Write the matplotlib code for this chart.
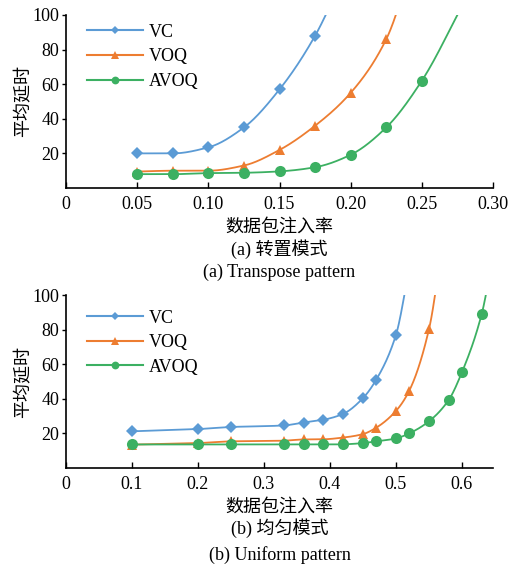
import numpy as np
import matplotlib
matplotlib.use("Agg")
import matplotlib.pyplot as plt

plt.rcParams['font.family'] = ['Liberation Serif', 'Noto Sans CJK SC', 'DejaVu Sans']
plt.rcParams['font.size'] = 13

series_names = ["VC", "VOQ", "AVOQ"]
colors = ["#5B9BD5", "#ED7D31", "#3CB062"]
markers = ["D", "^", "o"]

# (a) Transpose pattern
xa = [0.05, 0.075, 0.10, 0.125, 0.15, 0.175, 0.20, 0.225, 0.25]
vc_a = [20, 20, 23.5, 35, 57, 88]
voq_a = [9.5, 10, 10, 13, 22, 36, 55, 86]
avoq_a = [8, 8, 8.6, 8.8, 9.6, 12, 19.2, 35, 62]
# estimated continuation of the curves above the plot top
vc_a_ext = (0.20, 132)
voq_a_ext = (0.25, 150)
avoq_a_ext = (0.28, 108)

# (b) Uniform pattern
vc_b_x = [0.10, 0.20, 0.25, 0.33, 0.36, 0.39, 0.42, 0.45, 0.47, 0.50]
vc_b = [21.2, 22.5, 23.7, 24.6, 26.3, 27.9, 31.3, 40.4, 51, 77]
voq_b_x = [0.10, 0.20, 0.25, 0.33, 0.36, 0.39, 0.42, 0.45, 0.47, 0.50, 0.52, 0.55]
voq_b = [13.5, 14.4, 15.4, 15.8, 16.5, 16.6, 17.6, 19.6, 23.3, 33, 44.6, 80.2]
avoq_b_x = [0.10, 0.20, 0.25, 0.33, 0.36, 0.39, 0.42, 0.45, 0.47, 0.50, 0.52, 0.55, 0.58, 0.60, 0.63]
avoq_b = [13.6, 13.6, 13.6, 13.6, 13.6, 13.6, 13.7, 14.4, 15.4, 17.1, 20, 27, 39.4, 55.4, 89.2]
vc_b_ext = (0.52, 115)
voq_b_ext = (0.57, 128)
avoq_b_ext = (0.645, 118)

xticks_a = [0, 0.05, 0.10, 0.15, 0.20, 0.25, 0.30]
xticklabels_a = ["0", "0.05", "0.10", "0.15", "0.20", "0.25", "0.30"]
xticks_b = [0, 0.1, 0.2, 0.3, 0.4, 0.5, 0.6]
xticklabels_b = ["0", "0.1", "0.2", "0.3", "0.4", "0.5", "0.6"]
yticks = [20, 40, 60, 80, 100]


def pchip(x, y, xs):
    x = np.asarray(x, float); y = np.asarray(y, float)
    h = np.diff(x); d = np.diff(y) / h
    n = len(x)
    m = np.zeros(n)
    for k in range(1, n - 1):
        if d[k - 1] * d[k] <= 0:
            m[k] = 0
        else:
            w1 = 2 * h[k] + h[k - 1]; w2 = h[k] + 2 * h[k - 1]
            m[k] = (w1 + w2) / (w1 / d[k - 1] + w2 / d[k])
    m[0] = d[0]; m[-1] = d[-1]
    out = np.empty_like(xs)
    for i, xv in enumerate(xs):
        k = min(max(np.searchsorted(x, xv) - 1, 0), n - 2)
        t = (xv - x[k]) / h[k]
        h00 = 2 * t**3 - 3 * t**2 + 1; h10 = t**3 - 2 * t**2 + t
        h01 = -2 * t**3 + 3 * t**2; h11 = t**3 - t**2
        out[i] = h00 * y[k] + h10 * h[k] * m[k] + h01 * y[k + 1] + h11 * h[k] * m[k + 1]
    return out


fig = plt.figure(figsize=(5.25, 5.64), dpi=100)
fig.patch.set_facecolor("white")

W, H = 525, 564
def ax_rect(l, t, r, b):
    return [l / W, 1 - b / H, (r - l) / W, (b - t) / H]

ax1 = fig.add_axes(ax_rect(66, 15, 493, 188))
ax2 = fig.add_axes(ax_rect(66, 295, 493, 468))

panels = [
    (ax1, [(xa[:len(vc_a)], vc_a, vc_a_ext), (xa[:len(voq_a)], voq_a, voq_a_ext), (xa[:len(avoq_a)], avoq_a, avoq_a_ext)],
     (0, 0.30), xticks_a, xticklabels_a, "(a) 转置模式", "(a) Transpose pattern", 1.023, (-0.352, -0.487)),
    (ax2, [(vc_b_x, vc_b, vc_b_ext), (voq_b_x, voq_b, voq_b_ext), (avoq_b_x, avoq_b, avoq_b_ext)],
     (0, 0.647), xticks_b, xticklabels_b, "(b) 均匀模式", "(b) Uniform pattern", 0.989, (-0.347, -0.503)),
]

msizes = [6.5, 7.5, 8]
for ax, data, xlim, xt, xtl, cap_cn, cap_en, leg_y, cap_y in panels:
    for i, (xs, ys, ext) in enumerate(data):
        cx = list(xs) + [ext[0]]
        cy = list(ys) + [ext[1]]
        xx = np.linspace(cx[0], cx[-1], 400)
        yy = pchip(cx, cy, xx)
        ax.plot(xx, yy, color=colors[i], lw=1.3, zorder=2 + i)
        ax.plot(xs, ys, linestyle="none", marker=markers[i], color=colors[i],
                markersize=msizes[i], markeredgewidth=0, zorder=2 + i)
        ax.plot([], [], color=colors[i], lw=1.5, marker=markers[i],
                markersize=msizes[i] * 0.7, markeredgewidth=0, label=series_names[i])
    ax.set_xlim(*xlim)
    ax.set_ylim(0, 100)
    ax.set_xticks(xt)
    ax.set_xticklabels(xtl)
    ax.set_yticks(yticks)
    ax.spines["top"].set_visible(False)
    ax.spines["right"].set_visible(False)
    ax.spines["left"].set_linewidth(1.2)
    ax.spines["bottom"].set_linewidth(1.2)
    ax.tick_params(axis="x", direction="in", length=4, width=1, pad=6, labelsize=13)
    ax.tick_params(axis="y", direction="out", length=3, width=1, pad=2, labelsize=13)
    ax.set_ylabel("平均延时", fontsize=13, labelpad=0)
    ax.set_xlabel("数据包注入率", fontsize=13, labelpad=4)
    ax.legend(loc="upper left", bbox_to_anchor=(0.02, leg_y), frameon=False,
              handlelength=3.1, handletextpad=0.3, labelspacing=0.42, fontsize=13,
              borderaxespad=0.3)
    ax.text(0.5, cap_y[0], cap_cn, transform=ax.transAxes, ha="center", va="center", fontsize=13)
    ax.text(0.5, cap_y[1], cap_en, transform=ax.transAxes, ha="center", va="center", fontsize=13)

fig.savefig("out.png", dpi=100, facecolor="white")
